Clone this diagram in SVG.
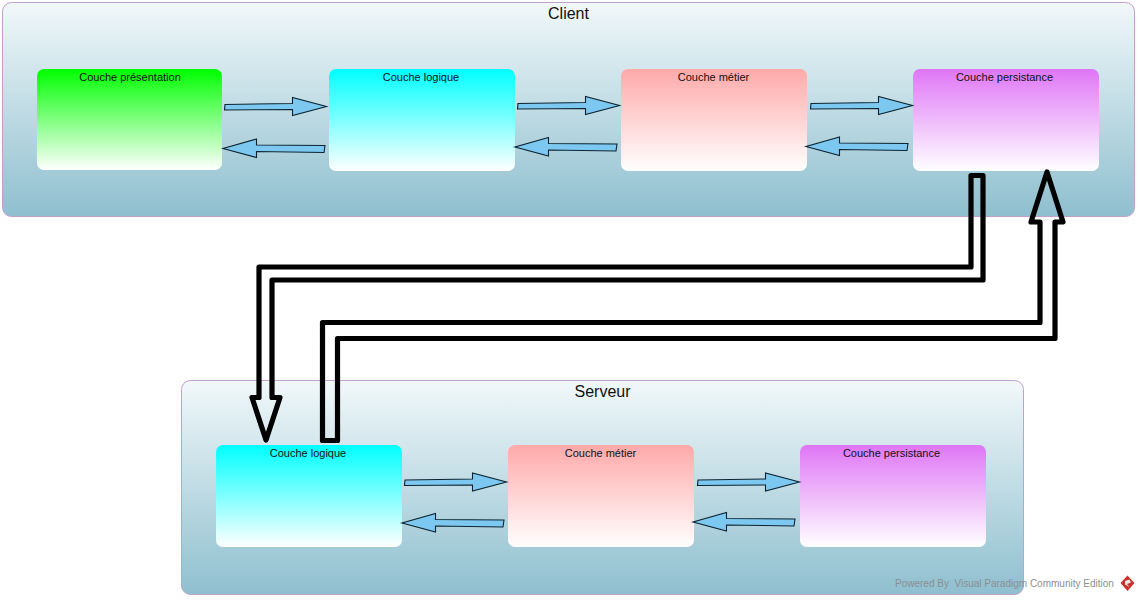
<svg xmlns="http://www.w3.org/2000/svg" width="1139" height="600" viewBox="0 0 1139 600">
<style>
text{font-family:"Liberation Sans",Arial,sans-serif;text-anchor:middle;fill:#111}
.frame{stroke:#c39fcf;stroke-width:1;fill:url(#gf)}
.box{stroke:none}
.nt{font-size:11px}
.ft{font-size:16px}
.thin{fill:#7cc8f0;stroke:#0d2430;stroke-width:1.1;stroke-linejoin:miter}
.fat{fill:none;stroke:#000;stroke-width:5.2;stroke-linejoin:round}
</style>
<defs>
<linearGradient id="gf" x1="0" y1="0" x2="0" y2="1"><stop offset="0" stop-color="#f1f8fa"/><stop offset="1" stop-color="#8fbfcf"/></linearGradient>
<linearGradient id="g1" x1="0" y1="0" x2="0" y2="1"><stop offset="0" stop-color="#00ff00"/><stop offset="1" stop-color="#ffffff"/></linearGradient>
<linearGradient id="g2" x1="0" y1="0" x2="0" y2="1"><stop offset="0" stop-color="#00ffff"/><stop offset="1" stop-color="#ffffff"/></linearGradient>
<linearGradient id="g3" x1="0" y1="0" x2="0" y2="1"><stop offset="0" stop-color="#ffa9a9"/><stop offset="1" stop-color="#ffffff"/></linearGradient>
<linearGradient id="g4" x1="0" y1="0" x2="0" y2="1"><stop offset="0" stop-color="#df76f6"/><stop offset="1" stop-color="#ffffff"/></linearGradient>
<path id="r" class="thin" d="M1,-2 L68.5,-3 L68.5,-9 L102.5,0 L68.5,9 L68.5,3 L0.5,3.5 Z"/>
<path id="l" class="thin" d="M102,-3 L33.5,-3.5 L33.5,-9.5 L0,0 L33.5,9 L33.5,3 L101,4 Z"/>
</defs>
<g id="client"><rect class="frame" x="2.5" y="2.5" width="1132" height="214" rx="9"/><text class="ft" x="568.5" y="19">Client</text></g>
<g id="serveur"><rect class="frame" x="181.5" y="380.5" width="842" height="214" rx="9"/><text class="ft" x="602.5" y="397">Serveur</text></g>
<g id="c-presentation"><rect class="box" x="37" y="69" width="185" height="101" rx="7" fill="url(#g1)"/><text class="nt" x="130" y="81">Couche présentation</text></g>
<g id="c-logique"><rect class="box" x="329" y="69" width="186" height="102" rx="7" fill="url(#g2)"/><text class="nt" x="421" y="81">Couche logique</text></g>
<g id="c-metier"><rect class="box" x="621" y="69" width="186" height="102" rx="7" fill="url(#g3)"/><text class="nt" x="713.5" y="81">Couche métier</text></g>
<g id="c-persistance"><rect class="box" x="913" y="69" width="186" height="102" rx="7" fill="url(#g4)"/><text class="nt" x="1004.5" y="81">Couche persistance</text></g>
<g id="s-logique"><rect class="box" x="216" y="445" width="186" height="102" rx="7" fill="url(#g2)"/><text class="nt" x="308" y="457">Couche logique</text></g>
<g id="s-metier"><rect class="box" x="508" y="445" width="186" height="102" rx="7" fill="url(#g3)"/><text class="nt" x="600.5" y="457">Couche métier</text></g>
<g id="s-persistance"><rect class="box" x="800" y="445" width="186" height="102" rx="7" fill="url(#g4)"/><text class="nt" x="891.5" y="457">Couche persistance</text></g>
<g id="connectors">
<use href="#r" x="224" y="106.5"/><use href="#l" x="223" y="148.5"/>
<use href="#r" x="517" y="105.5"/><use href="#l" x="515" y="147"/>
<use href="#r" x="810" y="105.5"/><use href="#l" x="806" y="146.5"/>
<use href="#r" x="404" y="482"/><use href="#l" x="402" y="523"/>
<use href="#r" x="697" y="482"/><use href="#l" x="693" y="522"/>
<path class="fat" d="M971,175.5 H983 V280 H272 V397.5 H280 L266,440 L252,397.5 H259 V267 H971 Z"/>
<path class="fat" d="M322.5,440.5 V322.5 H1040 V222 H1031 L1047,172 L1063,222 H1055 V338.5 H337.5 V440.5 Z"/>
</g>
<g id="watermark"><text x="895" y="587" font-size="10" style="fill:#8a8f94;text-anchor:start;white-space:pre">Powered By  Visual Paradigm Community Edition</text>
<path d="M1127.5,575.5 L1134.5,583 L1127.5,591 L1120.5,583 Z" fill="#c9302c"/><path d="M1125,581 L1129.5,579.5 L1131,582.5 L1127,584 L1129.5,587 L1125,584.5 Z" fill="#f5e6e0"/></g>
</svg>
